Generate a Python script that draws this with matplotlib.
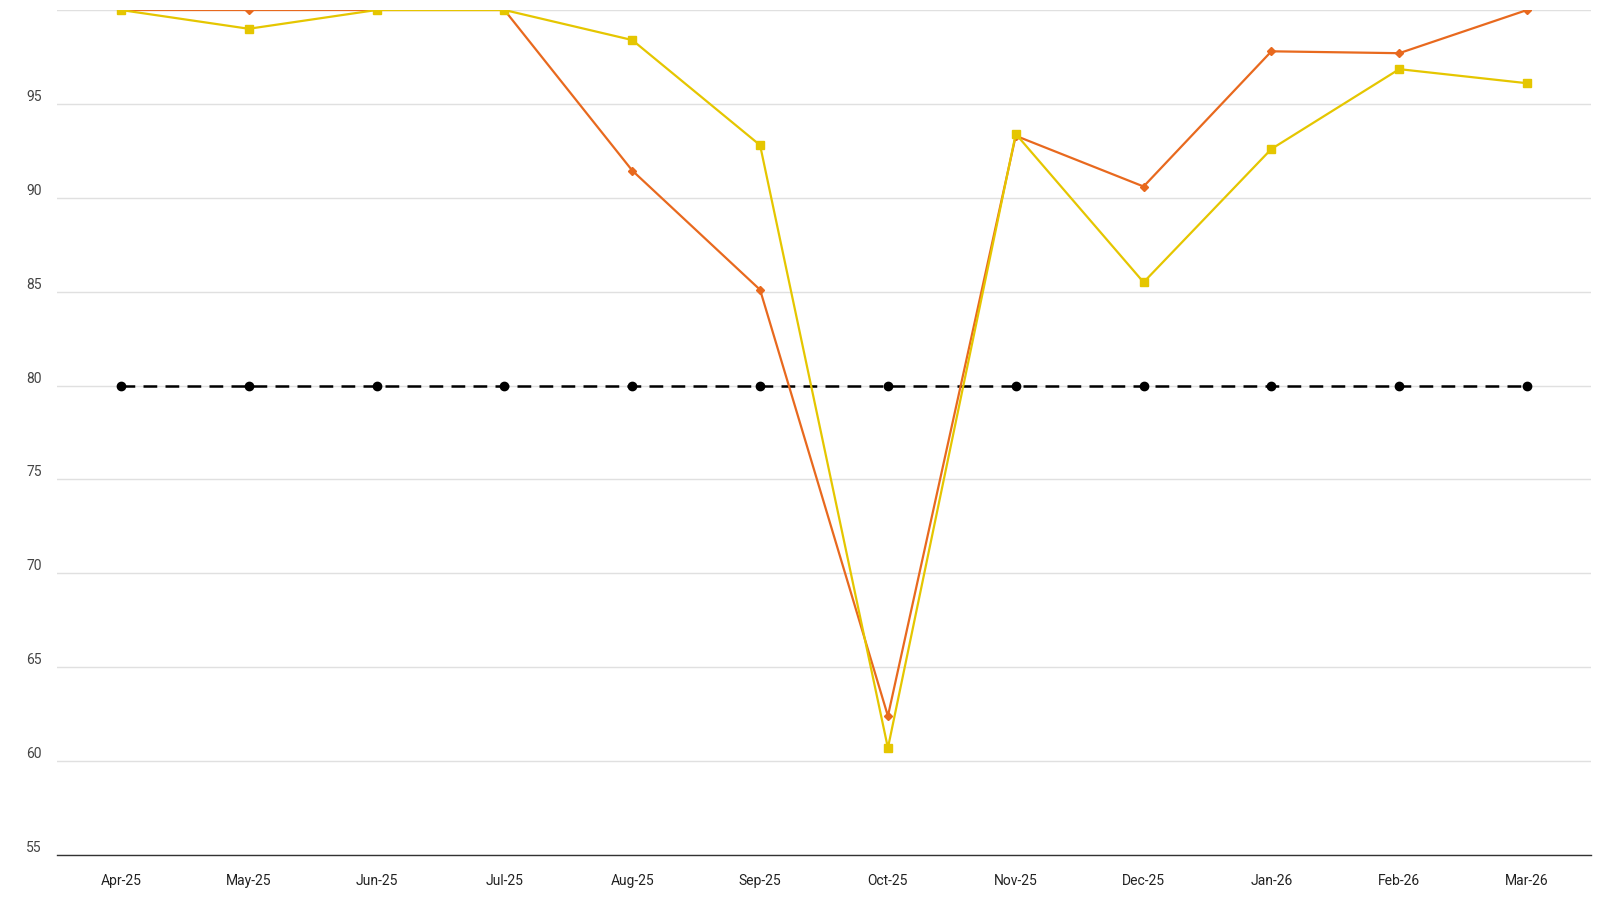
import numpy as np
import matplotlib.pyplot as plt

plt.rcParams['font.family'] = ['Roboto', 'DejaVu Sans']

months = ['Apr-25', 'May-25', 'Jun-25', 'Jul-25', 'Aug-25', 'Sep-25',
          'Oct-25', 'Nov-25', 'Dec-25', 'Jan-26', 'Feb-26', 'Mar-26']
orange_vals = [100, 100, 100, 100, 91.45, 85.1, 62.4, 93.3, 90.6, 97.8, 97.7, 100]
yellow_vals = [100, 99.0, 100, 100, 98.4, 92.8, 60.7, 93.4, 85.5, 92.6, 96.85, 96.1]
target_vals = [80] * 12
y_ticks = [55, 60, 65, 70, 75, 80, 85, 90, 95]

fig = plt.figure(figsize=(16, 9), dpi=100)
ax = fig.add_axes([57 / 1600, 45 / 900, (1591 - 57) / 1600, (855 - 10) / 900])

x = np.arange(len(months))
ax.plot(x, target_vals, color='black', lw=1.8, dashes=(5.5, 3.3),
        marker='o', ms=6, zorder=3)
ax.plot(x, orange_vals, color='#E8691E', lw=1.6, marker='D', ms=4.5, zorder=4)
ax.plot(x, yellow_vals, color='#E5C600', lw=1.6, marker='s', ms=6, zorder=5)

ax.set_xlim(-0.5, len(months) - 0.5)
ax.set_ylim(55, 100)
ax.set_xticks(x)
ax.set_xticklabels(months, fontsize=10, color='#222222')
ax.set_yticks(y_ticks + [100])
ax.set_yticklabels([str(t) for t in y_ticks] + [''], fontsize=10, color='#444444')
ax.tick_params(axis='both', length=0)
ax.tick_params(axis='x', pad=14)
ax.tick_params(axis='y', pad=11)
for lbl in ax.get_yticklabels():
    lbl.set_verticalalignment('bottom')

ax.grid(axis='y', color='#e0e0e0', lw=1)
ax.set_axisbelow(True)
for side in ['top', 'right', 'left']:
    ax.spines[side].set_visible(False)
ax.spines['bottom'].set_color('#333333')
ax.spines['bottom'].set_linewidth(1)
ax.spines['bottom'].set_zorder(6)

fig.savefig('out.png', dpi=100)
